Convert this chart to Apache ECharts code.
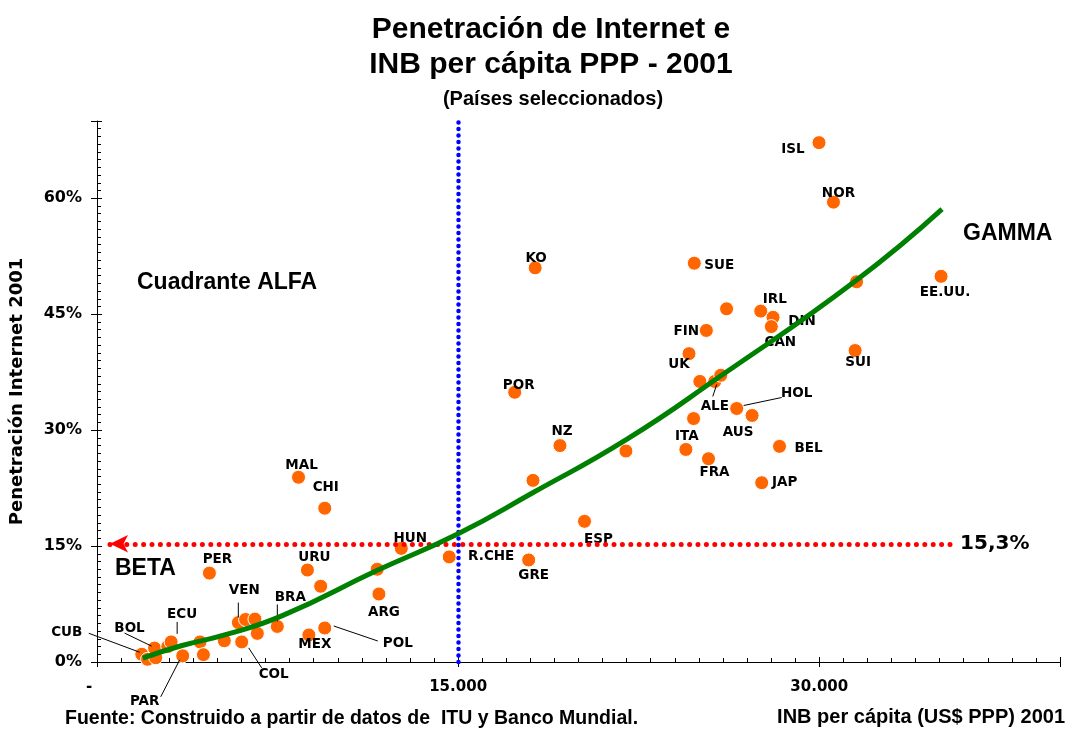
<!DOCTYPE html>
<html>
<head>
<meta charset="utf-8">
<script src="https://cdn.jsdelivr.net/npm/echarts@6.0.0/dist/echarts.min.js"></script>
<style>
  html, body { margin: 0; padding: 0; background: #fff; }
  #main { width: 1072px; height: 734px; }
</style>
</head>
<body>
<div id="main"></div>
<script>
// países ('' = punto sin etiqueta)
const paises = ['CUB', '', '', 'BOL', '', 'ECU', 'PAR', '', '', '', 'COL', 'VEN', '', '', '', 'BRA',
  'PER', 'URU', '', 'MEX', 'POL', '', 'ARG', 'MAL', 'CHI', 'HUN', 'R.CHE', 'GRE', '', 'ESP', 'NZ', '',
  'POR', 'KO', 'SUE', '', 'IRL', 'DIN', 'CAN', 'FIN', 'UK', '', 'ALE', '', 'HOL', 'AUS', '', 'ITA',
  'FRA', 'BEL', 'JAP', 'ISL', 'NOR', '', 'EE.UU.', 'SUI'];
// INB per cápita (US$ PPP) 2001
const inb = [1860, 2100, 2440, 2390, 2940, 3080, 3560, 4280, 4420, 5290, 6010, 5870, 6170, 6560, 6660, 7490,
  4670, 8740, 9290, 8800, 9460, 11640, 11710, 8370, 9460, 12640, 14630, 17930, 18110, 20250, 19230, 21970,
  17350, 18200, 24810, 26150, 27570, 28080, 28010, 25310, 24590, 25040, 25660, 25910, 26570, 27210, 24780, 24460,
  25400, 28350, 27610, 29990, 30590, 31550, 35060, 31490];
// penetración de Internet 2001 (%)
const internet = [1.0, 0.35, 0.55, 1.8, 2.0, 2.6, 0.8, 2.6, 0.95, 2.75, 2.6, 5.1, 5.5, 5.55, 3.7, 4.6,
  11.5, 11.9, 9.8, 3.5, 4.4, 12.0, 8.8, 23.9, 19.9, 14.7, 13.6, 13.2, 23.5, 18.2, 28.0, 27.3,
  34.9, 51.0, 51.6, 45.7, 45.4, 44.6, 43.4, 42.9, 39.9, 36.3, 36.3, 37.1, 32.8, 31.9, 31.5, 27.5,
  26.3, 27.9, 23.2, 67.2, 59.5, 49.2, 49.9, 40.3];

// línea de tendencia
const tendX = [1900, 3500, 5300, 7700, 11600, 15000, 18100, 22000, 25900, 31500, 35100];
const tendY = [0.5, 2.1, 3.5, 6.0, 11.8, 16.6, 21.9, 28.8, 37.0, 49.3, 58.6];

// promedios
const promInb = 15000;
const promInternet = 15.3;

// desplazamiento de etiquetas (px)
const etiquetas = {
  'CUB': [-75, -22], 'BOL': [-25, -20], 'ECU': [11, -27], 'PAR': [-38, 46], 'COL': [32, 33],
  'VEN': [6, -32], 'BRA': [13, -29], 'PER': [8, -14], 'URU': [7, -13], 'MEX': [6, 10],
  'POL': [73, 16], 'ARG': [5, 19], 'MAL': [3, -12], 'CHI': [1, -21], 'HUN': [9, -10],
  'R.CHE': [42, 0], 'GRE': [5, 16], 'ESP': [14, 18], 'NZ': [2, -14], 'POR': [4, -7],
  'KO': [1, -9], 'SUE': [25, 2], 'IRL': [14, -12], 'DIN': [29, 4], 'CAN': [9, 16],
  'FIN': [-20, 1], 'UK': [-10, 11], 'ALE': [0, 25], 'HOL': [60, -15], 'AUS': [-14, 17],
  'ITA': [1, -13], 'FRA': [6, 14], 'BEL': [29, 2], 'JAP': [23, 0], 'ISL': [-26, 7],
  'NOR': [5, -9], 'EE.UU.': [4, 16], 'SUI': [3, 12]
};
// líneas guía (px, relativas al punto)
const guias = {
  'CUB': [[-53, -21], [-2, -2]], 'BOL': [[-30, -15], [-3, -2]], 'ECU': [[6, -20], [6, -8]],
  'PAR': [[-22, 41], [-3, 4]], 'VEN': [[0, -20], [0, -5]], 'BRA': [[0, -22], [0, -5]],
  'COL': [[20, 26], [7, 6]], 'POL': [[9, -2], [53, 13]], 'ALE': [[-2, 15], [2, 3]],
  'HOL': [[7, -3], [45, -11]]
};

const chart = echarts.init(document.getElementById('main'));

const puntos = paises.map((p, i) => ({
  name: p,
  value: [inb[i], internet[i]],
  label: etiquetas[p] ? { show: true, offset: etiquetas[p] } : { show: false }
}));

const fmtMiles = v => String(v).replace(/\B(?=(\d{3})+(?!\d))/g, '.');

const ejeX = {
  type: 'value', min: 0, max: 40000, interval: 15000, position: 'bottom',
  splitLine: { show: false }
};
const ejeY = {
  type: 'value', min: 0, max: 70, interval: 15, position: 'left',
  splitLine: { show: false }
};

chart.setOption({
  animation: false,
  backgroundColor: '#fff',
  title: [{
    text: 'Penetración de Internet e\nINB per cápita PPP - 2001',
    left: 546, top: 7, textAlign: 'center',
    textStyle: { fontFamily: 'Liberation Sans', fontWeight: 'bold', fontSize: 30, lineHeight: 35, color: '#000' }
  }, {
    text: '(Países seleccionados)',
    left: 548, top: 84, textAlign: 'center',
    textStyle: { fontFamily: 'Liberation Sans', fontWeight: 'bold', fontSize: 20, color: '#000' }
  }],
  grid: { left: 95, right: 12, top: 121, bottom: 72 },
  xAxis: [
    Object.assign({}, ejeX, {
      axisLine: { lineStyle: { color: '#000', width: 1 } },
      axisTick: { inside: true, length: 5, lineStyle: { color: '#000' } },
      minorTick: { show: true, splitNumber: 15, length: 4, lineStyle: { color: '#000' } },
      axisLabel: { show: false }
    }),
    Object.assign({}, ejeX, {
      axisLine: { show: false },
      axisTick: { inside: false, length: 5, lineStyle: { color: '#000' } },
      axisLabel: {
        margin: 18, color: '#000', fontFamily: 'DejaVu Sans', fontWeight: 'bold', fontSize: 15,
        formatter: v => v === 0 ? '{c|-}' : (v === 40000 ? '' : fmtMiles(v)),
        rich: { c: { padding: [0, 16, 0, 0], fontFamily: 'DejaVu Sans', fontWeight: 'bold', fontSize: 15, color: '#000' } }
      }
    })
  ],
  yAxis: [
    Object.assign({}, ejeY, {
      axisLine: { show: true, lineStyle: { color: '#000', width: 1 } },
      axisTick: { inside: true, length: 5, lineStyle: { color: '#000' } },
      minorTick: { show: true, splitNumber: 15, length: 4, lineStyle: { color: '#000' } },
      axisLabel: { show: false },
      name: 'Penetración Internet 2001', nameLocation: 'middle', nameGap: 71,
      nameTextStyle: { fontFamily: 'DejaVu Sans', fontWeight: 'bold', fontSize: 18, color: '#000' }
    }),
    Object.assign({}, ejeY, {
      axisLine: { show: false },
      axisTick: { inside: false, length: 6, lineStyle: { color: '#000' } },
      axisLabel: {
        margin: 15, color: '#000', fontFamily: 'DejaVu Sans', fontWeight: 'bold', fontSize: 16,
        formatter: v => v === 70 ? '' : v + '%'
      }
    })
  ],
  series: [
    {
      // líneas de promedio
      type: 'line', data: [], silent: true,
      markLine: {
        silent: true, animation: false,
        data: [
          [{ coord: [540, promInternet], symbol: 'arrow', symbolSize: [13, 18] },
           { coord: [35600, promInternet], symbol: 'none',
             label: { show: true, position: 'end', distance: 6, formatter: '15,3%',
               fontFamily: 'DejaVu Sans', fontWeight: 'bold', fontSize: 20, color: '#000' } }],
          { xAxis: promInb, symbol: 'none',
            lineStyle: { color: '#0000ff', width: 4.5, type: [0, 6.5], cap: 'round' } }
        ],
        symbol: 'none',
        label: { show: false },
        lineStyle: { color: '#ff0000', width: 5, type: [0, 8.4], cap: 'round' },
        itemStyle: { color: '#ff0000' }
      }
    },
    {
      type: 'scatter',
      data: puntos,
      symbolSize: 14,
      itemStyle: { color: '#ff6600', borderColor: '#fff', borderWidth: 1, opacity: 1 },
      label: {
        position: 'inside', formatter: '{b}', color: '#000',
        fontFamily: 'DejaVu Sans', fontWeight: 'bold', fontSize: 13.5
      },
      emphasis: { disabled: true },
      z: 3
    },
    {
      type: 'custom',
      data: paises.map((p, i) => guias[p] ? [inb[i], internet[i], i] : null).filter(d => d),
      encode: { x: 0, y: 1 },
      renderItem: (params, api) => {
        const c = api.coord([api.value(0), api.value(1)]);
        const g = guias[paises[api.value(2)]];
        return {
          type: 'line',
          shape: { x1: c[0] + g[0][0], y1: c[1] + g[0][1], x2: c[0] + g[1][0], y2: c[1] + g[1][1] },
          style: { stroke: '#000', lineWidth: 1 }
        };
      },
      silent: true, z: 4
    },
    {
      type: 'line',
      data: tendX.map((x, i) => [x, tendY[i]]),
      smooth: true, showSymbol: false, silent: true,
      lineStyle: { color: '#008000', width: 5 },
      z: 5
    }
  ],
  graphic: [
    { type: 'text', left: 137, top: 271, style: { text: 'Cuadrante ALFA', font: 'bold 23px "Liberation Sans"', fill: '#000' } },
    { type: 'text', left: 115, top: 557, style: { text: 'BETA', font: 'bold 23px "Liberation Sans"', fill: '#000' } },
    { type: 'text', left: 963, top: 222, style: { text: 'GAMMA', font: 'bold 23px "Liberation Sans"', fill: '#000' } },
    { type: 'text', left: 65, top: 709, style: { text: 'Fuente: Construido a partir de datos de  ITU y Banco Mundial.', font: 'bold 19.5px "Liberation Sans"', fill: '#000' } },
    { type: 'text', right: 7, top: 707, style: { text: 'INB per cápita (US$ PPP) 2001', font: 'bold 20px "Liberation Sans"', fill: '#000' } }
  ]
});
</script>
</body>
</html>
